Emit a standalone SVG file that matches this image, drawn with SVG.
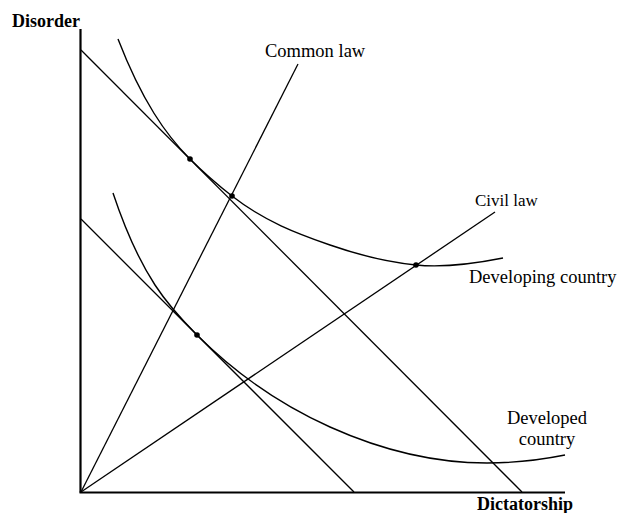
<svg xmlns="http://www.w3.org/2000/svg" width="618" height="513" viewBox="0 0 618 513">
<style>
.ax{stroke:#000;stroke-width:2.2;fill:none}
.ln{stroke:#000;stroke-width:1.3;fill:none}
.cv{stroke:#000;stroke-width:1.4;fill:none}
.lbl{font-family:"Liberation Serif","Times New Roman",serif;font-size:18.5px;fill:#000}
.bold{font-weight:bold;font-size:18px}
.dot{fill:#000}
</style>
<rect width="618" height="513" fill="#fff"/>
<g id="axes">
<line class="ax" x1="80.5" y1="29" x2="80.5" y2="492.5"/>
<line class="ax" x1="79.5" y1="492.5" x2="565" y2="492.5"/>
<text class="lbl bold" x="12" y="27">Disorder</text>
<text class="lbl bold" x="477" y="510">Dictatorship</text>
</g>
<g id="connectors">
<line id="budget-upper" class="ln" x1="81" y1="50" x2="522" y2="492"/>
<line id="budget-lower" class="ln" x1="81" y1="219" x2="354" y2="492"/>
<line id="common-law-line" class="ln" x1="81" y1="492" x2="298" y2="64"/>
<line id="civil-law-line" class="ln" x1="81" y1="492" x2="495" y2="212"/>
</g>
<g id="developing-country">
<path class="cv" d="M118,39 C142,101 166,135 190,159 C204,173 218,185.1 232,196 C264.7,221.5 297.3,233.6 330,245 C358.7,255 387.3,262.1 416,265 C445,267.9 474,263.8 503,258"/>
<text class="lbl" x="469" y="283">Developing country</text>
</g>
<g id="developed-country">
<path class="cv" d="M113,193 C141,277 169,307 197,335 C241.3,379.3 285.7,407 330,427 C382.3,450.5 434.7,463 487,463 C513,463 539,460.2 565,455"/>
<text class="lbl" x="547" y="424" text-anchor="middle">Developed</text>
<text class="lbl" x="547" y="445" text-anchor="middle">country</text>
</g>
<g id="common-law">
<text class="lbl" x="265" y="57">Common law</text>
</g>
<g id="civil-law">
<text class="lbl" x="475" y="206" style="font-size:17px">Civil law</text>
</g>
<g id="points">
<circle class="dot" cx="190" cy="159" r="2.8"/>
<circle class="dot" cx="232" cy="196" r="2.8"/>
<circle class="dot" cx="416" cy="265" r="2.8"/>
<circle class="dot" cx="197" cy="335" r="2.8"/>
</g>
</svg>
